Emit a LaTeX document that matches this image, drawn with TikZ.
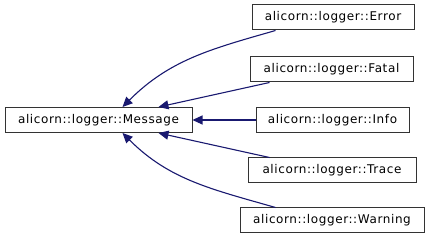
\documentclass[tikz,border=0pt]{standalone}
\usepackage{fontspec}
\setmainfont{DejaVu Sans}[LetterSpace=5]
\usepackage{xcolor}
\usetikzlibrary{arrows.meta}

\definecolor{edgeblue}{HTML}{191970}

\tikzset{
  classbox/.style={draw=black!80, fill=white, line width=1pt, inner sep=0pt,
    minimum height=25pt, font=\fontsize{12}{14}\selectfont},
  inherit/.style={draw=edgeblue, line width=1.1pt,
    -{Triangle[length=10pt,width=9pt]}}
}

\begin{document}
\begin{tikzpicture}[x=1pt, y=-1pt]
        \useasboundingbox (0,0) rectangle (429,240);

        % Basisklasse
        \node[classbox, minimum width=187pt] (msg) at (98.5,120) {alicorn::logger::Message};

        % Abgeleitete Klassen
        \node[classbox, minimum width=162pt] (err)  at (333,17.5)  {alicorn::logger::Error};
        \node[classbox, minimum width=163pt] (fat)  at (331.5,69.5) {alicorn::logger::Fatal};
        \node[classbox, minimum width=153pt] (inf)  at (332.5,120)  {alicorn::logger::Info};
        \node[classbox, minimum width=168pt] (trc)  at (332,170.5) {alicorn::logger::Trace};
        \node[classbox, minimum width=184pt] (wrn)  at (332,220.5) {alicorn::logger::Warning};

        % Vererbung
        \draw[inherit] ([xshift=24pt]err.south west) to[out=196, in=45] ([xshift=24pt]msg.north);
        \draw[inherit] ([xshift=20pt]fat.south west) -- ([xshift=60pt]msg.north);
        \draw[inherit] (inf.west) -- (msg.east);
        \draw[inherit] ([xshift=22pt]trc.north west) -- ([xshift=60pt]msg.south);
        \draw[inherit] ([xshift=36pt]wrn.north west) to[out=164, in=-45] ([xshift=24pt]msg.south);
    \end{tikzpicture}
\end{document}
